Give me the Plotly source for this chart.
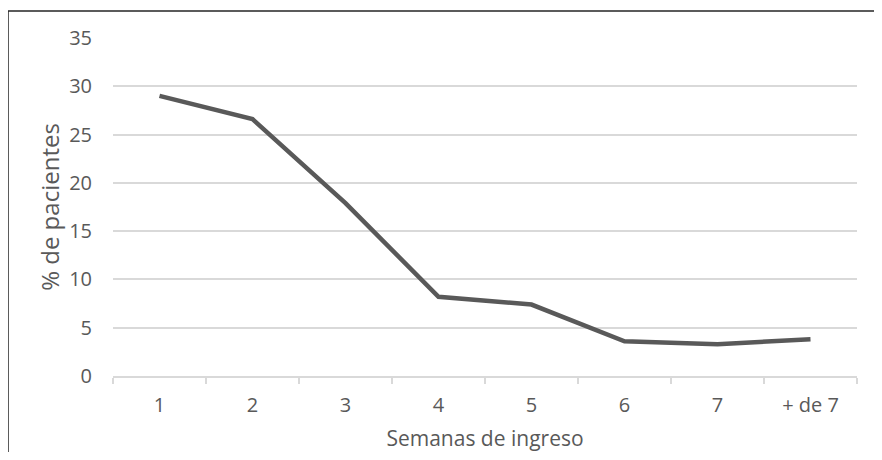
import plotly.graph_objects as go

categories = ["1", "2", "3", "4", "5", "6", "7", "+ de 7"]
values = [29.0, 26.6, 17.9, 8.2, 7.4, 3.6, 3.3, 3.8]
y_ticks = [0, 5, 10, 15, 20, 25, 30, 35]

# page body has an 8px margin, so figure coordinates = screen - 8
OFF = 8
W, H = 882 - 2 * OFF, 460 - 2 * OFF
L, R, T, B = 113 - OFF, 882 - OFF - 857, 38 - OFF, (460 - OFF) - 376
pw, ph = W - L - R, H - T - B

def px_x(x):
    return (x - OFF - L) / pw

def px_y(y):
    return (H - B - (y - OFF)) / ph

font = "Open Sans"
txt = "#595959"
grid = "#d9d9d9"

fig = go.Figure()
fig.add_trace(go.Scatter(
    x=categories, y=values, mode="lines",
    line=dict(color="#595959", width=4.5),
    hoverinfo="skip", showlegend=False,
))

fig.update_layout(
    width=W, height=H,
    margin=dict(l=L, r=R, t=T, b=B, autoexpand=False),
    paper_bgcolor="white", plot_bgcolor="white",
    font=dict(family=font, color=txt, size=19),
    xaxis=dict(
        type="category", automargin=False,
        showgrid=False,
        showline=True, linecolor=grid, linewidth=1.5,
        ticks="outside", tickson="boundaries", ticklen=6, tickcolor=grid, tickwidth=1.5,
        tickfont=dict(size=20, color=txt, family=font),
        ticklabelstandoff=10,
        title=dict(text="Semanas de ingreso", font=dict(size=21, color=txt, family=font), standoff=17),
        range=[-0.5, 7.5],
    ),
    yaxis=dict(
        range=[0, 35], tickvals=y_ticks, automargin=False,
        showgrid=True, gridcolor=grid, gridwidth=1.5,
        zeroline=False, showline=False, ticks="",
        tickfont=dict(size=20, color=txt, family=font),
        ticklabelstandoff=20,
        title=dict(text="% de pacientes", font=dict(size=24, color=txt, family=font), standoff=2),
    ),
    shapes=[dict(
        type="rect", xref="paper", yref="paper",
        x0=px_x(8), x1=px_x(895), y0=px_y(475), y1=px_y(11),
        line=dict(color="#262626", width=1.5), fillcolor="rgba(0,0,0,0)", layer="above",
    )],
)

fig.write_html("out.html")
